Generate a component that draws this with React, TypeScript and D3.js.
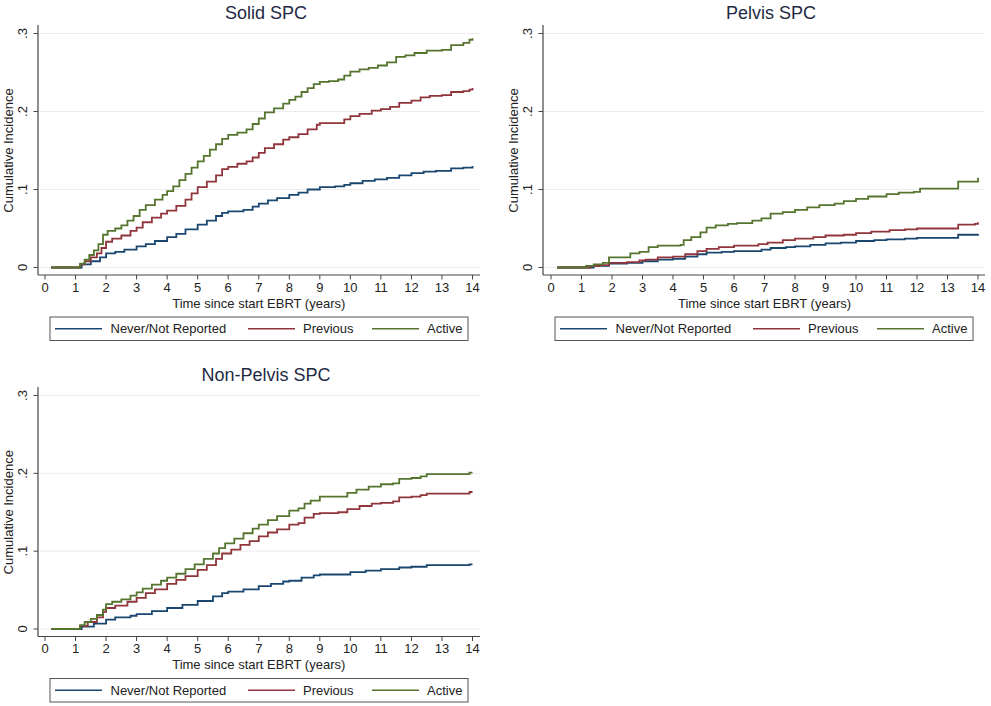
import React from "react";
import * as d3 from "d3";

type Pt = [number, number];

const seriesNames = ["Never/Not Reported", "Previous", "Active"];
const seriesColors = ["#1a476f", "#90353b", "#55752f"];
const xTicks = [0, 1, 2, 3, 4, 5, 6, 7, 8, 9, 10, 11, 12, 13, 14];
const yTicks = [0, 0.1, 0.2, 0.3];
const yTickLabels = ["0", ".1", ".2", ".3"];
const panelTitles = ["Solid SPC", "Pelvis SPC", "Non-Pelvis SPC"];

// Solid SPC
const solidNever: Pt[] = [[0.2,0],[1.05,0],[1.2,0.004],[1.5,0.008],[1.8,0.013],[2.0,0.018],[2.3,0.020],[2.6,0.023],[3.0,0.027],[3.3,0.030],[3.6,0.034],[4.0,0.039],[4.3,0.043],[4.6,0.049],[5.0,0.055],[5.3,0.060],[5.6,0.066],[5.8,0.070],[6.0,0.072],[6.5,0.074],[6.8,0.078],[7.0,0.082],[7.3,0.086],[7.6,0.089],[8.0,0.093],[8.3,0.096],[8.6,0.100],[9.0,0.103],[9.5,0.104],[9.8,0.106],[10.0,0.108],[10.4,0.111],[10.8,0.113],[11.2,0.115],[11.6,0.118],[12.0,0.121],[12.4,0.123],[12.8,0.124],[13.3,0.127],[13.7,0.128],[14.0,0.130]];
const solidPrevious: Pt[] = [[0.2,0],[1.05,0],[1.15,0.004],[1.3,0.008],[1.5,0.013],[1.7,0.018],[1.85,0.025],[2.0,0.033],[2.2,0.037],[2.5,0.041],[2.8,0.047],[3.0,0.051],[3.2,0.058],[3.5,0.064],[3.8,0.069],[4.0,0.073],[4.3,0.079],[4.6,0.087],[4.8,0.095],[5.0,0.103],[5.3,0.110],[5.6,0.118],[5.8,0.126],[6.0,0.129],[6.3,0.133],[6.6,0.136],[6.8,0.141],[7.0,0.147],[7.2,0.153],[7.5,0.158],[7.8,0.164],[8.0,0.167],[8.3,0.171],[8.6,0.177],[8.9,0.183],[9.0,0.185],[9.5,0.185],[9.8,0.190],[10.0,0.194],[10.3,0.197],[10.7,0.201],[11.0,0.203],[11.3,0.206],[11.6,0.211],[12.0,0.214],[12.3,0.218],[12.6,0.220],[13.0,0.221],[13.3,0.225],[13.7,0.226],[13.9,0.228],[14.0,0.230]];
const solidActive: Pt[] = [[0.2,0],[1.05,0],[1.15,0.005],[1.3,0.010],[1.45,0.016],[1.6,0.022],[1.75,0.030],[1.9,0.042],[2.05,0.047],[2.3,0.050],[2.5,0.054],[2.7,0.060],[2.9,0.066],[3.1,0.074],[3.3,0.080],[3.6,0.087],[3.85,0.093],[4.0,0.098],[4.2,0.104],[4.4,0.112],[4.6,0.120],[4.8,0.128],[5.0,0.136],[5.2,0.143],[5.4,0.151],[5.6,0.158],[5.8,0.165],[6.0,0.170],[6.3,0.173],[6.6,0.177],[6.8,0.184],[7.0,0.191],[7.2,0.199],[7.5,0.204],[7.8,0.210],[8.0,0.215],[8.2,0.219],[8.4,0.225],[8.6,0.230],[8.8,0.235],[9.0,0.238],[9.3,0.239],[9.6,0.241],[9.8,0.246],[10.0,0.251],[10.3,0.254],[10.6,0.256],[10.9,0.259],[11.2,0.263],[11.5,0.270],[11.8,0.272],[12.1,0.275],[12.5,0.278],[13.0,0.279],[13.3,0.285],[13.7,0.288],[13.9,0.292],[14.0,0.294]];

// Pelvis SPC
const pelvisNever: Pt[] = [[0.2,0],[1.0,0],[1.4,0.002],[1.9,0.005],[2.5,0.006],[3.0,0.008],[3.5,0.010],[4.0,0.011],[4.4,0.014],[4.8,0.017],[5.1,0.019],[5.6,0.020],[6.0,0.021],[6.6,0.021],[6.9,0.023],[7.2,0.025],[7.7,0.026],[8.0,0.027],[8.5,0.029],[9.0,0.031],[9.5,0.032],[10.0,0.034],[10.6,0.035],[11.0,0.036],[11.6,0.037],[12.0,0.038],[13.3,0.038],[13.35,0.042],[14.0,0.043]];
const pelvisPrevious: Pt[] = [[0.2,0],[1.0,0],[1.3,0.002],[1.6,0.003],[1.9,0.006],[2.5,0.007],[2.9,0.009],[3.1,0.010],[3.5,0.013],[4.0,0.014],[4.4,0.017],[4.8,0.021],[5.1,0.024],[5.5,0.026],[6.0,0.028],[6.5,0.028],[6.8,0.030],[7.1,0.032],[7.6,0.035],[8.0,0.037],[8.6,0.039],[9.0,0.041],[9.6,0.042],[10.0,0.044],[10.5,0.046],[11.1,0.048],[11.6,0.049],[12.0,0.050],[13.3,0.050],[13.35,0.055],[13.9,0.056],[14.0,0.058]];
const pelvisActive: Pt[] = [[0.2,0],[1.0,0],[1.15,0.002],[1.4,0.004],[1.7,0.006],[1.9,0.013],[2.5,0.013],[2.6,0.018],[2.9,0.020],[3.2,0.026],[3.5,0.028],[4.25,0.029],[4.35,0.035],[4.6,0.039],[4.9,0.045],[5.1,0.051],[5.4,0.054],[5.8,0.056],[6.1,0.057],[6.6,0.060],[6.9,0.063],[7.2,0.069],[7.6,0.071],[8.0,0.074],[8.4,0.077],[8.8,0.080],[9.3,0.082],[9.6,0.085],[10.0,0.088],[10.4,0.091],[11.0,0.094],[11.4,0.096],[11.9,0.097],[12.1,0.101],[13.3,0.101],[13.35,0.110],[13.9,0.110],[14.0,0.115]];

// Non-Pelvis SPC
const nonPelvisNever: Pt[] = [[0.2,0],[1.05,0],[1.2,0.003],[1.6,0.007],[2.0,0.012],[2.3,0.015],[2.8,0.017],[3.0,0.019],[3.5,0.023],[4.0,0.027],[4.5,0.031],[5.0,0.036],[5.5,0.042],[5.8,0.046],[6.0,0.048],[6.5,0.051],[7.0,0.055],[7.4,0.058],[7.8,0.061],[8.0,0.062],[8.4,0.066],[8.8,0.069],[9.0,0.070],[9.6,0.070],[10.0,0.073],[10.5,0.075],[11.0,0.077],[11.6,0.079],[12.0,0.080],[12.5,0.082],[13.8,0.082],[13.9,0.083],[14.0,0.083]];
const nonPelvisPrevious: Pt[] = [[0.2,0],[1.05,0],[1.15,0.004],[1.4,0.009],[1.7,0.015],[1.9,0.022],[2.0,0.027],[2.3,0.030],[2.7,0.035],[3.0,0.040],[3.3,0.046],[3.6,0.051],[4.0,0.058],[4.3,0.063],[4.6,0.068],[5.0,0.076],[5.3,0.082],[5.6,0.090],[5.8,0.097],[6.1,0.102],[6.4,0.108],[6.7,0.113],[7.0,0.119],[7.3,0.124],[7.6,0.128],[8.0,0.134],[8.3,0.136],[8.5,0.143],[8.8,0.148],[9.0,0.149],[9.6,0.150],[9.9,0.154],[10.3,0.158],[10.7,0.161],[11.0,0.162],[11.4,0.164],[11.6,0.169],[12.0,0.170],[12.3,0.172],[12.5,0.174],[13.8,0.174],[13.9,0.176],[14.0,0.176]];
const nonPelvisActive: Pt[] = [[0.2,0],[1.05,0],[1.15,0.005],[1.3,0.009],[1.5,0.013],[1.7,0.018],[1.9,0.025],[2.0,0.032],[2.2,0.035],[2.5,0.038],[2.8,0.043],[3.0,0.047],[3.2,0.052],[3.5,0.057],[3.8,0.062],[4.0,0.066],[4.3,0.071],[4.6,0.077],[4.9,0.083],[5.2,0.090],[5.5,0.097],[5.7,0.104],[5.9,0.110],[6.2,0.116],[6.5,0.123],[6.8,0.129],[7.0,0.134],[7.3,0.140],[7.6,0.145],[8.0,0.152],[8.3,0.155],[8.5,0.161],[8.7,0.165],[9.0,0.170],[9.6,0.170],[9.9,0.175],[10.2,0.179],[10.6,0.183],[11.0,0.186],[11.4,0.187],[11.6,0.193],[12.0,0.194],[12.3,0.196],[12.5,0.199],[13.8,0.199],[13.9,0.201],[14.0,0.201]];

const FONT = "'Liberation Sans', Arial, Helvetica, sans-serif";
const TEXT = "#222";
const AXIS = "#444";

interface PanelProps {
  title: string;
  series: Pt[][];
  axisX: number;
  x0: number;
  x14: number;
  yBottom: number;
  yTop: number;
  plotRight: number;
}

function Panel({ title, series, axisX, x0, x14, yBottom, yTop, plotRight }: PanelProps) {
  const x = d3.scaleLinear().domain([0, 14]).range([x0, x14]);
  const y = d3.scaleLinear().domain([0, 0.3]).range([yBottom, yTop]);
  const line = d3
    .line<Pt>()
    .x((d) => x(d[0]))
    .y((d) => y(d[1]))
    .curve(d3.curveStepAfter);
  const axisY = yBottom + 7.5;
  const titleX = (axisX + plotRight) / 2 + 7;
  const legendLeft = axisX + 12;
  const legendRight = plotRight - 12;
  const legendTop = axisY + 42;
  const legendH = 23.5;
  const legendMid = legendTop + legendH / 2;
  const entryOffsets = [5, 198, 322];
  const textOffsets = [60.5, 253, 377];
  return (
    <g>
      <text x={titleX} y={yTop - 15} textAnchor="middle" fontFamily={FONT} fontSize={18} fill="#1e2a44">
        {title}
      </text>
      {yTicks.map((t, i) => (
        <line key={"g" + i} x1={axisX + 1} x2={plotRight} y1={y(t)} y2={y(t)} stroke="#ececec" strokeWidth={1} />
      ))}
      <line x1={axisX} x2={axisX} y1={yTop - 8.5} y2={axisY} stroke={AXIS} strokeWidth={1.2} />
      <line x1={axisX} x2={plotRight} y1={axisY} y2={axisY} stroke={AXIS} strokeWidth={1.2} />
      {yTicks.map((t, i) => (
        <g key={"yt" + i}>
          <line x1={axisX - 4.5} x2={axisX} y1={y(t)} y2={y(t)} stroke={AXIS} strokeWidth={1} />
          <text
            transform={`translate(${axisX - 11},${y(t)}) rotate(-90)`}
            textAnchor="middle"
            fontFamily={FONT}
            fontSize={13}
            fill={TEXT}
          >
            {yTickLabels[i]}
          </text>
        </g>
      ))}
      <text
        transform={`translate(${axisX - 25},${(yTop + yBottom) / 2}) rotate(-90)`}
        textAnchor="middle"
        fontFamily={FONT}
        fontSize={13}
        fill={TEXT}
      >
        Cumulative Incidence
      </text>
      {xTicks.map((t) => (
        <g key={"xt" + t}>
          <line x1={x(t)} x2={x(t)} y1={axisY} y2={axisY + 4.5} stroke={AXIS} strokeWidth={1} />
          <text x={x(t)} y={axisY + 16.5} textAnchor="middle" fontFamily={FONT} fontSize={13} fill={TEXT}>
            {t}
          </text>
        </g>
      ))}
      <text x={x(7)} y={axisY + 32.5} textAnchor="middle" fontFamily={FONT} fontSize={13} fill={TEXT}>
        Time since start EBRT (years)
      </text>
      {series.map((s, i) => (
        <path key={"s" + i} d={line(s) || ""} fill="none" stroke={seriesColors[i]} strokeWidth={1.8} />
      ))}
      <rect
        x={legendLeft}
        y={legendTop}
        width={legendRight - legendLeft}
        height={legendH}
        fill="#fff"
        stroke="#555"
        strokeWidth={1}
      />
      {seriesNames.map((n, i) => (
        <g key={"l" + i}>
          <line
            x1={legendLeft + entryOffsets[i]}
            x2={legendLeft + entryOffsets[i] + 47}
            y1={legendMid}
            y2={legendMid}
            stroke={seriesColors[i]}
            strokeWidth={1.7}
          />
          <text x={legendLeft + textOffsets[i]} y={legendMid + 4.5} fontFamily={FONT} fontSize={13} fill={TEXT}>
            {n}
          </text>
        </g>
      ))}
    </g>
  );
}

export default function App() {
  return (
    <svg
      width={991}
      height={706}
      style={{ position: "absolute", left: 0, top: 0, background: "#fff" }}
    >
      <rect width={991} height={706} fill="#fff" />
      <Panel
        title={panelTitles[0]}
        series={[solidNever, solidPrevious, solidActive]}
        axisX={38}
        x0={45}
        x14={472.5}
        yBottom={267.5}
        yTop={33.5}
        plotRight={480}
      />
      <Panel
        title={panelTitles[1]}
        series={[pelvisNever, pelvisPrevious, pelvisActive]}
        axisX={543}
        x0={551}
        x14={978}
        yBottom={267.5}
        yTop={33.5}
        plotRight={985}
      />
      <Panel
        title={panelTitles[2]}
        series={[nonPelvisNever, nonPelvisPrevious, nonPelvisActive]}
        axisX={38}
        x0={45}
        x14={472.5}
        yBottom={629}
        yTop={395.5}
        plotRight={480}
      />
    </svg>
  );
}
